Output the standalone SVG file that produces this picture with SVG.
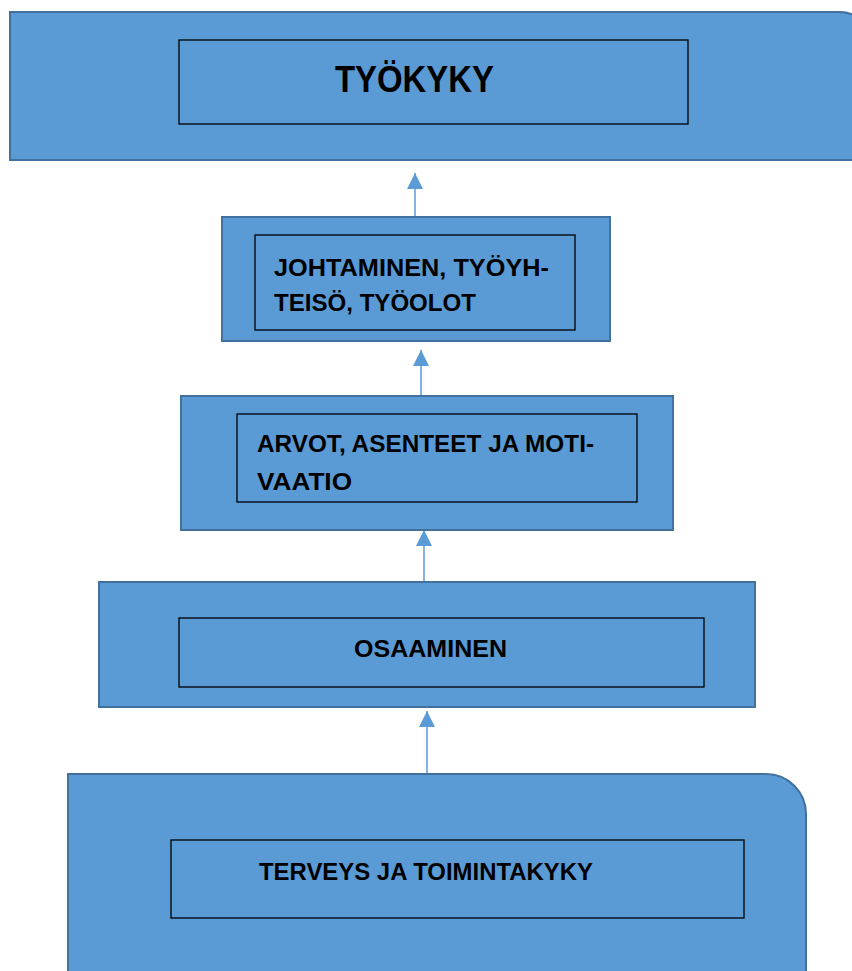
<svg xmlns="http://www.w3.org/2000/svg" width="852" height="971" viewBox="0 0 852 971">
<style>
.outer{fill:#5B9BD5;stroke:#41719C;stroke-width:2}
.inner{fill:none;stroke:#000;stroke-width:1.3}
.t{font-family:"Liberation Sans",Arial,sans-serif;font-weight:bold;fill:#000}
.c{stroke:#5B9BD5;stroke-width:1.5;fill:none;marker-end:url(#ah)}
</style>
<defs>
<marker id="ah" markerUnits="userSpaceOnUse" markerWidth="16" markerHeight="18" refX="16" refY="8" orient="auto">
<path d="M0,0 L16,8 L0,16 Z" fill="#5B9BD5"/>
</marker>
</defs>
<rect width="852" height="971" fill="#fff"/>
<g id="connectors">
<line class="c" x1="415" y1="235" x2="415" y2="173"/>
<line class="c" x1="421" y1="397" x2="421" y2="350"/>
<line class="c" x1="424" y1="582" x2="424" y2="530"/>
<line class="c" x1="427" y1="775" x2="427" y2="711"/>
</g>
<g id="tyokyky">
<path class="outer" d="M10,12 H840 A30,30 0 0 1 870,42 V160 H10 Z"/>
<rect class="inner" x="179" y="40" width="509" height="84"/>
<text class="t" x="335" y="92" font-size="36" textLength="159" lengthAdjust="spacingAndGlyphs">TYÖKYKY</text>
</g>
<g id="johtaminen">
<rect class="outer" x="222" y="217" width="388" height="124"/>
<rect class="inner" x="255" y="235" width="320" height="95"/>
<text class="t" x="274" y="276" font-size="24" textLength="275" lengthAdjust="spacingAndGlyphs">JOHTAMINEN, TYÖYH-</text>
<text class="t" x="274" y="311" font-size="24" textLength="202" lengthAdjust="spacingAndGlyphs">TEISÖ, TYÖOLOT</text>
</g>
<g id="arvot">
<rect class="outer" x="181" y="396" width="492" height="134"/>
<rect class="inner" x="237" y="414" width="400" height="88"/>
<text class="t" x="257" y="452" font-size="24" textLength="337" lengthAdjust="spacingAndGlyphs">ARVOT, ASENTEET JA MOTI-</text>
<text class="t" x="257" y="490" font-size="24" textLength="95" lengthAdjust="spacingAndGlyphs">VAATIO</text>
</g>
<g id="osaaminen">
<rect class="outer" x="99" y="582" width="656" height="125"/>
<rect class="inner" x="179" y="618" width="525" height="69"/>
<text class="t" x="354" y="657" font-size="24" textLength="153" lengthAdjust="spacingAndGlyphs">OSAAMINEN</text>
</g>
<g id="terveys">
<path class="outer" d="M68,774 H766 A40,40 0 0 1 806,814 V985 H68 Z"/>
<rect class="inner" x="171" y="840" width="573" height="78"/>
<text class="t" x="259" y="880" font-size="24" textLength="334" lengthAdjust="spacingAndGlyphs">TERVEYS JA TOIMINTAKYKY</text>
</g>
</svg>
